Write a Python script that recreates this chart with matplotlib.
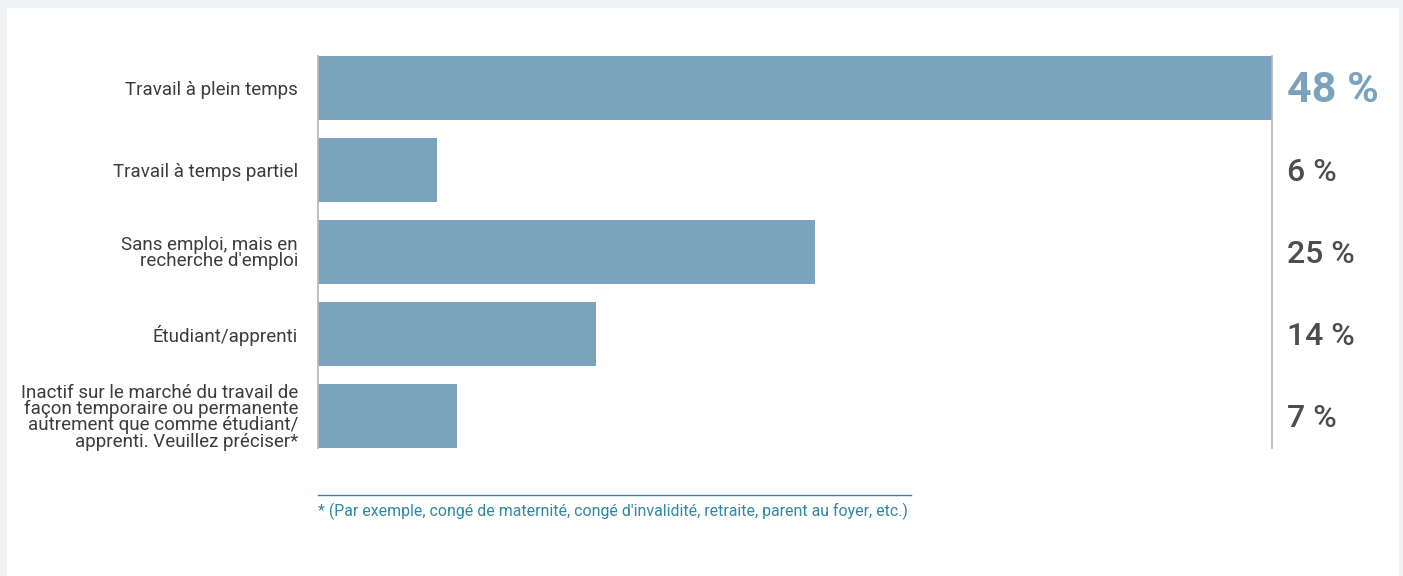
import matplotlib
matplotlib.use("Agg")
import matplotlib.pyplot as plt
from matplotlib.patches import Rectangle
from matplotlib.lines import Line2D

categories = [
    "Travail à plein temps",
    "Travail à temps partiel",
    "Sans emploi, mais en\nrecherche d'emploi",
    "Étudiant/apprenti",
    "Inactif sur le marché du travail de\nfaçon temporaire ou permanente\nautrement que comme étudiant/\napprenti. Veuillez préciser*",
]
values = [48, 6, 25, 14, 7]
value_labels = ["48 %", "6 %", "25 %", "14 %", "7 %"]
footnote = "* (Par exemple, congé de maternité, congé d'invalidité, retraite, parent au foyer, etc.)"

W, H = 1403, 576
BAR = "#7ba3bd"
TXT = "#3c3c3c"
VAL = "#4d4d4d"
TEAL = "#2b88a6"
FONT = "Roboto"

fig = plt.figure(figsize=(W / 100, H / 100), dpi=100)
fig.patch.set_facecolor("#f0f1f3")
fig.add_artist(Rectangle((7 / W, 0), (1399 - 7) / W, 1 - 8 / H,
                         transform=fig.transFigure, facecolor="white",
                         edgecolor="none", zorder=0))

x0, x1 = 318, 1272
top, bot = 56, 448
ax = fig.add_axes([x0 / W, 1 - bot / H, (x1 - x0) / W, (bot - top) / H])
ax.set_facecolor("none")

ypos = list(range(len(values)))
h = 64 / 82
ax.barh(ypos, values, height=h, color=BAR, zorder=2)
ax.set_xlim(0, max(values))
ax.set_ylim(len(values) - 1 + h / 2, -h / 2)

for s in ["top", "bottom"]:
    ax.spines[s].set_visible(False)
for s in ["left", "right"]:
    ax.spines[s].set_color("#b5b5b5")
    ax.spines[s].set_linewidth(1.2)
ax.set_xticks([])
ax.set_yticks(ypos)
ax.set_yticklabels(categories, fontsize=13.5, color=TXT, family=FONT,
                   linespacing=0.88)
ax.tick_params(axis="y", length=0, pad=14.4)
for t in ax.get_yticklabels():
    t.set_horizontalalignment("right")
    t.set_multialignment("right")

for i, (v, lab) in enumerate(zip(values, value_labels)):
    first = i == 0
    ax.annotate(lab, xy=(1, i), xycoords=("axes fraction", "data"),
                xytext=(15 * 0.72, -2), textcoords="offset points",
                ha="left", va="center",
                fontsize=31 if first else 23,
                fontweight="bold" if first else "medium",
                color=BAR if first else VAL, family=FONT)

fig.add_artist(Line2D([318 / W, 911 / W], [1 - 495 / H, 1 - 495 / H],
                      transform=fig.transFigure, color=TEAL, linewidth=1))
fig.text(318 / W, 1 - 511 / H, footnote, fontsize=11.4, color=TEAL,
         family=FONT, ha="left", va="center")

fig.savefig("out.png", dpi=100, facecolor=fig.get_facecolor())
